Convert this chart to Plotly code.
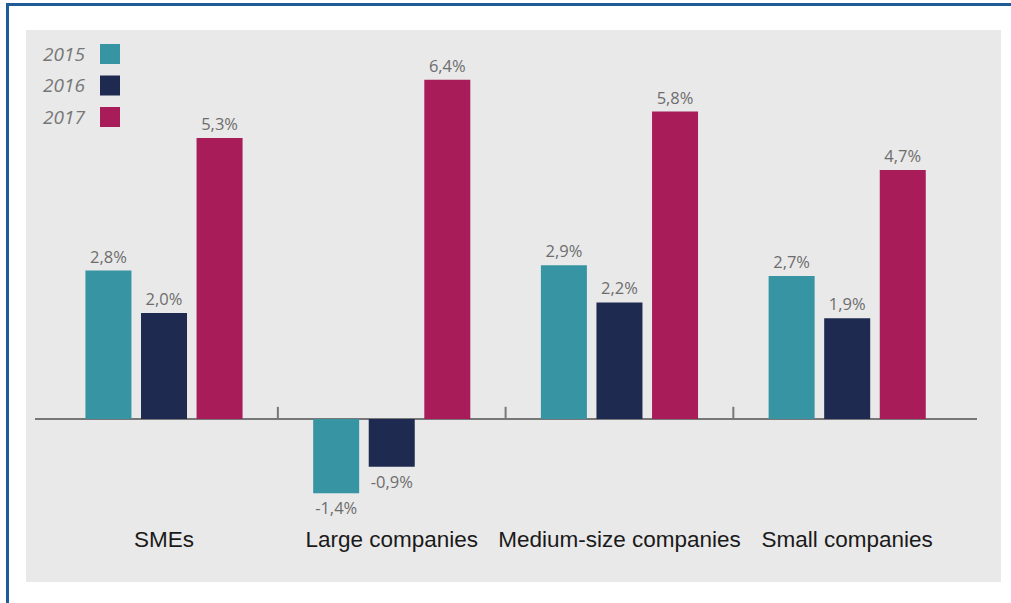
import plotly.graph_objects as go

# Growth rates by company size (percent)
categories = ["SMEs", "Large companies", "Medium-size companies", "Small companies"]
years = ["2015", "2016", "2017"]
values_2015 = [2.8, -1.4, 2.9, 2.7]
values_2016 = [2.0, -0.9, 2.2, 1.9]
values_2017 = [5.3, 6.4, 5.8, 4.7]
series = [values_2015, values_2016, values_2017]
colors = ["#3794a2", "#1e2a4f", "#a81c5a"]

W, H = 1011, 603
ML, MR, MT, MB = 35, 34, 30, 80
plot_w = W - ML - MR
plot_h = H - MT - MB


def px_x(p):
    return (p - ML) / plot_w


def px_y(p):
    return (H - MB - p) / plot_h


fig = go.Figure()
for name, vals, col in zip(years, series, colors):
    fig.add_trace(go.Bar(
        x=categories, y=vals, name=name,
        marker=dict(color=col, line=dict(width=0)),
        texttemplate="%{y:.1f}%", textposition="outside",
        textfont=dict(family="Open Sans", size=16.5, color="#6d6d6d"),
        cliponaxis=False, showlegend=False,
    ))

shapes = [
    # panel background
    dict(type="rect", xref="paper", yref="paper", layer="below",
         x0=px_x(26), x1=px_x(1001), y0=px_y(582), y1=px_y(30),
         fillcolor="#e9e9e9", line=dict(width=0)),
    # frame lines
    dict(type="line", xref="paper", yref="paper",
         x0=px_x(7.5), x1=px_x(7.5), y0=px_y(3), y1=px_y(603),
         line=dict(color="#1f5b97", width=3)),
    dict(type="line", xref="paper", yref="paper",
         x0=px_x(6), x1=px_x(1011), y0=px_y(4.5), y1=px_y(4.5),
         line=dict(color="#1f5b97", width=3)),
]
# group separators on the zero line
for b in [0.5, 1.5, 2.5]:
    shapes.append(dict(type="line", xref="x", yref="y", x0=b, x1=b, y0=0, y1=0.23,
                       line=dict(color="#777777", width=2)))

annotations = []
# legend: year label followed by colour swatch
for i, (name, col) in enumerate(zip(years, colors)):
    cy = 54 + i * 31.5
    annotations.append(dict(xref="paper", yref="paper", x=px_x(87), y=px_y(cy),
                            xanchor="right", yanchor="middle", showarrow=False,
                            text="<i>" + name + "</i>",
                            font=dict(family="Open Sans", size=19, color="#777777")))
    shapes.append(dict(type="rect", xref="paper", yref="paper",
                       x0=px_x(100), x1=px_x(120), y0=px_y(cy + 10), y1=px_y(cy - 10),
                       fillcolor=col, line=dict(width=0)))

fig.update_layout(
    width=W, height=H,
    margin=dict(l=ML, r=MR, t=MT, b=MB),
    paper_bgcolor="white", plot_bgcolor="rgba(0,0,0,0)",
    barmode="group", bargap=0.268, bargroupgap=0.172,
    separators=",.",
    shapes=shapes, annotations=annotations,
    xaxis=dict(range=[-0.5665, 3.57], showgrid=False, showline=False, ticks="",
               tickfont=dict(family="Liberation Sans", size=22.5, color="#1a1a1a")),
    yaxis=dict(range=[-1.962, 7.34], showgrid=False, showticklabels=False,
               zeroline=True, zerolinecolor="#777777", zerolinewidth=2),
)

fig.write_html("out.html")
